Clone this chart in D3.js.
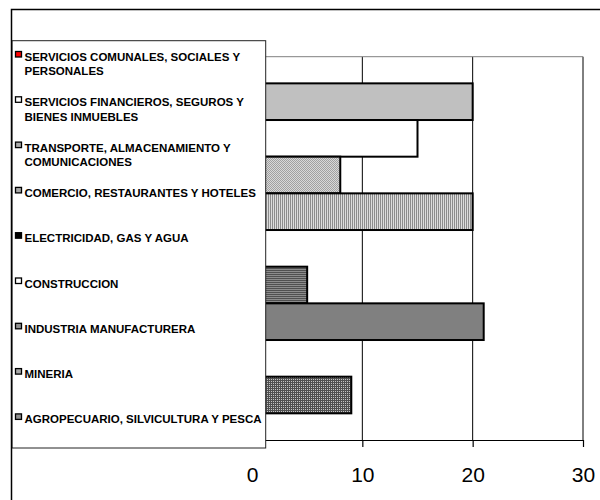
<!DOCTYPE html>
<html>
<head>
<meta charset="utf-8">
<script src="https://cdn.jsdelivr.net/npm/d3@7"></script>
<style>
  html, body { margin: 0; padding: 0; background: #fff; }
  svg { display: block; font-family: "Liberation Sans", Arial, sans-serif; }
</style>
</head>
<body>
<svg id="chart" width="600" height="500"></svg>
<script>
// Sectors, listed top to bottom as they appear in the legend and the bar stack
const sectors = [
  ["SERVICIOS COMUNALES, SOCIALES Y", "PERSONALES"],
  ["SERVICIOS FINANCIEROS, SEGUROS Y", "BIENES INMUEBLES"],
  ["TRANSPORTE, ALMACENAMIENTO Y", "COMUNICACIONES"],
  ["COMERCIO, RESTAURANTES Y HOTELES"],
  ["ELECTRICIDAD, GAS Y AGUA"],
  ["CONSTRUCCION"],
  ["INDUSTRIA MANUFACTURERA"],
  ["MINERIA"],
  ["AGROPECUARIO, SILVICULTURA Y PESCA"]
];
// Value of each sector
const values = [20, 15, 8, 20, 0, 5, 21, 0, 9];
// Axis ticks
const tickValues = [0, 10, 20, 30];

// Bar fills and legend key fills, one per sector
const barFills = ["#c0c0c0", "#ffffff", "url(#dots)", "url(#vstripe)", "#000000",
                  "url(#hstripe)", "#808080", "#a0a0a0", "url(#grid)"];
const keyFills = ["#ff0000", "#ffffff", "#a8a8a8", "#a8a8a8", "#000000",
                  "#ffffff", "#909090", "#a8a8a8", "#909090"];

const svg = d3.select("#chart");
const defs = svg.append("defs");

// Fill patterns used by the bars
function pattern(id, w, h, bg, rects) {
  const p = defs.append("pattern").attr("id", id)
    .attr("patternUnits", "userSpaceOnUse").attr("width", w).attr("height", h);
  p.append("rect").attr("width", w).attr("height", h).attr("fill", bg);
  rects.forEach(r => p.append("rect")
    .attr("x", r[0]).attr("y", r[1]).attr("width", r[2]).attr("height", r[3]).attr("fill", r[4]));
}
pattern("dots", 2, 2, "#d8d8d8", [[0, 0, 1, 1, "#a0a0a0"], [1, 1, 1, 1, "#a0a0a0"]]);
pattern("vstripe", 2, 2, "#dcdcdc", [[0, 0, 1, 2, "#8c8c8c"]]);
pattern("hstripe", 2, 2, "#8c8c8c", [[0, 0, 2, 1, "#505050"]]);
pattern("grid", 2, 2, "#c4c4c4", [[0, 0, 2, 1, "#505050"], [0, 0, 1, 2, "#505050"]]);

// Plot area
const plot = { left: 252, right: 583, top: 56.7, bottom: 440 };

const x = d3.scaleLinear().domain([0, 30]).range([plot.left, plot.right]);
const y = d3.scaleBand()
  .domain(d3.range(sectors.length))
  .range([plot.top, plot.bottom])
  .paddingInner(0)
  .paddingOuter(0.727);

// Gridlines
svg.append("g").selectAll("line")
  .data(tickValues.filter(v => v > 0))
  .join("line")
  .attr("x1", d => x(d)).attr("x2", d => x(d))
  .attr("y1", plot.top).attr("y2", plot.bottom)
  .attr("stroke", "#000").attr("stroke-width", 1);

// Plot area top border
svg.append("line")
  .attr("x1", plot.left).attr("x2", plot.right)
  .attr("y1", plot.top).attr("y2", plot.top)
  .attr("stroke", "#808080").attr("stroke-width", 1);

// Bars
svg.append("g").selectAll("rect")
  .data(values)
  .join("rect")
  .attr("x", x(0))
  .attr("y", (d, i) => y(i))
  .attr("width", d => x(d) - x(0))
  .attr("height", y.bandwidth())
  .attr("fill", (d, i) => barFills[i])
  .attr("stroke", "#000")
  .attr("stroke-width", 2);

// Value axis
const axis = svg.append("g")
  .attr("transform", `translate(0,${plot.bottom})`)
  .call(d3.axisBottom(x).tickValues(tickValues).tickSize(7).tickPadding(20).tickSizeOuter(0));
axis.select(".domain").attr("stroke", "#000").attr("stroke-width", 1.2);
axis.selectAll(".tick line").attr("stroke", "#000").attr("stroke-width", 1.2);
axis.selectAll(".tick text")
  .attr("fill", "#000")
  .style("font-size", "21px")
  .style("font-family", "'Liberation Sans', Arial, sans-serif");

// Legend box
const legend = { x: 12, y: 40.7, w: 253.7, h: 407.3, first: 61, step: 45.3, lineH: 14.3 };
svg.append("rect")
  .attr("x", legend.x).attr("y", legend.y)
  .attr("width", legend.w).attr("height", legend.h)
  .attr("fill", "#fff").attr("stroke", "#222").attr("stroke-width", 1);

const items = svg.append("g").selectAll("g")
  .data(sectors)
  .join("g")
  .attr("transform", (d, i) => `translate(0,${legend.first + i * legend.step})`);

items.append("rect")
  .attr("x", 15.5).attr("y", -9.5)
  .attr("width", 6).attr("height", 5.5)
  .attr("fill", (d, i) => keyFills[i])
  .attr("stroke", "#000").attr("stroke-width", 1.3);

items.append("text")
  .attr("x", 24.5)
  .style("font-size", "11.5px")
  .style("font-weight", "bold")
  .attr("fill", "#000")
  .selectAll("tspan")
  .data(d => d)
  .join("tspan")
  .attr("x", 24.5)
  .attr("y", (d, j) => j * legend.lineH)
  .text(d => d);

// Chart area frame
svg.append("rect")
  .attr("x", 11.5).attr("y", 9.5)
  .attr("width", 600).attr("height", 500)
  .attr("fill", "none").attr("stroke", "#000").attr("stroke-width", 1.5);
</script>
</body>
</html>
